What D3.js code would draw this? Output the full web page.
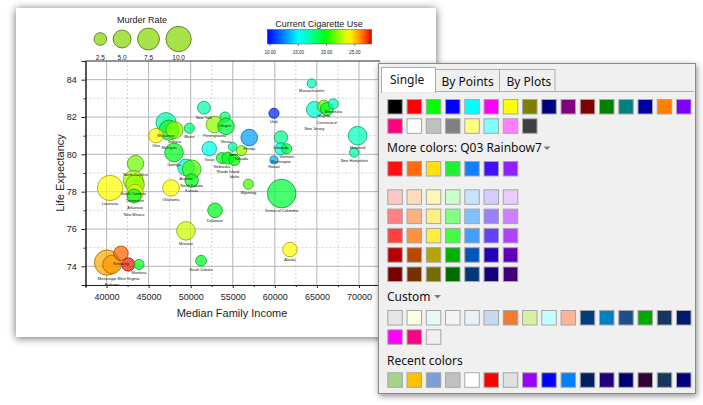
<!DOCTYPE html>
<html><head><meta charset="utf-8">
<script src="https://cdn.jsdelivr.net/npm/d3@7"></script>
<style>html,body{margin:0;padding:0;background:#fff;overflow:hidden}</style>
</head><body>
<svg id="c" width="703" height="405"></svg>
<script>
// ---------------- chart data ----------------
const states = ["Massachusetts","Utah","New Jersey","Virginia","Connecticut","Minnesota","New York","Oregon","Pennsylvania","Illinois","Florida","Colorado","Washington","Vermont","Hawaii","Maryland","New Hampshire","Texas","Iowa","Nevada","Nebraska","Rhode Island","Idaho","Wisconsin","Michigan","Indiana","Ohio","Maine","Georgia","Arizona","North Dakota","Kansas","North Carolina","Louisiana","South Carolina","Tennessee","Arkansas","New Mexico","Oklahoma","Wyoming","District of Columbia","Delaware","Missouri","Alaska","South Dakota","Mississippi","Alabama","Kentucky","West Virginia","Montana"];
const income = [64380,59900,64710,65840,66190,66945,51580,54080,52830,54200,56960,60730,60730,61410,59900,69840,69440,52210,54990,56040,53720,54430,55200,47070,47430,48080,45880,49840,48020,49440,50120,50120,43450,40420,43180,43390,43390,43270,47660,56850,60810,52890,49440,61800,51230,40060,40650,41720,42590,43860];
const lifeExp = [83.8,82.2,82.4,82.56,82.43,82.7,82.5,82.0,81.6,81.5,80.9,80.9,80.3,80.3,79.7,81.0,80.1,80.3,80.4,80.2,79.8,79.8,79.7,81.7,81.3,81.3,81.0,81.4,80.1,79.3,79.2,78.6,79.5,78.2,78.6,78.4,77.95,77.77,78.2,78.4,77.9,77.0,75.9,74.9,74.3,74.2,74.1,74.7,74.1,74.1];
const murderRate = [1.3,1.6,4.0,2.6,2.6,1.6,2.6,1.6,4.3,4.3,4.3,2.8,2.3,1.6,1.0,5.4,1.4,3.3,1.2,1.6,1.9,2.3,2.0,6.3,6.3,4.5,3.3,1.6,5.4,4.3,5.4,2.8,4.3,10,6.3,5.4,4.3,3.1,4.3,1.6,12.8,3.3,5.4,3.3,1.8,10,5.4,3.3,2.8,1.6];
const cigaretteUse = [16.5,10.5,16,21.5,19.5,16.5,17,18,22,19,13,17.5,16,19,13.5,16.5,17,15.5,17,22,19.5,19.5,20,17,19.5,22,24,18,19.5,16,21,19.5,21.5,24,22.5,22,23.5,19.5,24,21,19,19.5,23,24,19.5,25.5,25.8,26.5,27.5,19.5];

const xTicks = [40000,45000,50000,55000,60000,65000,70000];
const xMinorTicks = [37500,42500,47500,52500,57500,62500,67500,72500];
const yTicks = [74,76,78,80,82,84];
const yMinorTicks = [73,75,77,79,81,83,85];
const murderLegend = [2.5,5.0,7.5,10.0];
const cigTicks = [10,15,20,25];

// ---------------- colour picker data ----------------
const singleColors = ["#000000","#ff0000","#00ff00","#0000ff","#00ffff","#ff00ff","#ffff00","#808000","#000080","#800080","#800000","#008000","#008080","#0000a0","#ff8000","#8000ff",
  "#ff0080","#ffffff","#c0c0c0","#808080","#ffff80","#80ffff","#ff80ff","#404040"];
const rainbow7 = ["#ff1010","#ff6a10","#ffe010","#22ee33","#1080ff","#4010ff","#9020ff"];
const tint1 = ["#ffc8c8","#ffdcc0","#fff5b8","#c8ffc8","#c8e4ff","#d6ccff","#e8ccff"];
const tint2 = ["#ff8080","#ffb080","#fff080","#80ff80","#80c0ff","#9980ff","#cc80ff"];
const tint3 = ["#ff4040","#ff9040","#ffee40","#40ff40","#40a0ff","#6640ff","#b240ff"];
const shade1 = ["#b80000","#b84a00","#b8a400","#00b000","#0056b8","#2600b8","#6000b8"];
const shade2 = ["#780000","#783000","#786c00","#006c00","#003878","#180078","#400078"];
const customColors = ["#e6e6e6","#ffffe0","#e6f8f8","#f4f4f4","#e8f0fa","#c6d9f0","#ed7d31","#d8f0a0","#c0ffff","#fbb49c","#003f7f","#0080c0","#1f4e8c","#00aa00","#17365d","#001a70",
  "#ff00ff","#ff0080","#f0f0f0"];
const recentColors = ["#a9d18e","#ffc000","#7f9fd4","#c0c0c0","#ffffff","#ff0000","#e0e0e0","#9900ff","#0000ff","#0080ff","#002060","#20007a","#000070","#330033","#17365d","#000080"];

// ---------------- setup ----------------
const svg = d3.select("#c");
const defs = svg.append("defs");
const f1 = defs.append("filter").attr("id","winShadow").attr("x","-20%").attr("y","-20%").attr("width","140%").attr("height","140%");
f1.append("feDropShadow").attr("dx",0).attr("dy",1).attr("stdDeviation",4).attr("flood-color","#000").attr("flood-opacity",0.6);
const f2 = defs.append("filter").attr("id","popShadow").attr("x","-20%").attr("y","-20%").attr("width","140%").attr("height","140%");
f2.append("feDropShadow").attr("dx",1).attr("dy",2).attr("stdDeviation",3).attr("flood-color","#000").attr("flood-opacity",0.45);

const FONT = "'Liberation Sans', Arial, sans-serif";

// chart window
svg.append("rect").attr("x",16).attr("y",8).attr("width",420).attr("height",329).attr("fill","#fff").attr("filter","url(#winShadow)");

const x = d3.scaleLinear().domain([37500,72500]).range([85.5,380]);
const y = d3.scaleLinear().domain([73,85]).range([285,61]);
const r = d3.scaleSqrt().domain([0,10]).range([0,12.65]);
const cigStops = [9.5,12,15,17.5,20,22,24,25.8,27.5,28];
const cigColors = ["#0000ff","#0070ff","#00ffff","#00ff90","#00ff00","#90ff00","#ffff00","#ff9900","#ff1a00","#cc0000"];
const color = d3.scaleLinear().domain(cigStops).range(cigColors).clamp(true);

const plot = svg.append("g");
defs.append("clipPath").attr("id","pclip").append("rect").attr("x",85.5).attr("y",61).attr("width",294.5).attr("height",224);

// gridlines
const grid = plot.append("g");
grid.selectAll(".vmaj").data(xTicks).join("line")
  .attr("x1",d=>x(d)).attr("x2",d=>x(d)).attr("y1",y(85)).attr("y2",y(73))
  .attr("stroke","#b4b4b4").attr("stroke-width",1);
grid.selectAll(".vmin").data(xMinorTicks).join("line")
  .attr("x1",d=>x(d)).attr("x2",d=>x(d)).attr("y1",y(85)).attr("y2",y(73))
  .attr("stroke","#d2d2d2").attr("stroke-width",1).attr("stroke-dasharray","2,2");
grid.selectAll(".hmaj").data(yTicks).join("line")
  .attr("y1",d=>y(d)).attr("y2",d=>y(d)).attr("x1",x(37500)).attr("x2",x(72500))
  .attr("stroke","#b4b4b4").attr("stroke-width",1);
grid.selectAll(".hmin").data(yMinorTicks).join("line")
  .attr("y1",d=>y(d)).attr("y2",d=>y(d)).attr("x1",x(37500)).attr("x2",x(72500))
  .attr("stroke","#d2d2d2").attr("stroke-width",1).attr("stroke-dasharray","2,2");

// frame top
plot.append("line").attr("x1",x(37500)).attr("x2",x(72500)).attr("y1",y(85)).attr("y2",y(85)).attr("stroke","#333");

// bubbles
const pts = states.map((s,i)=>({s, inc:income[i], le:lifeExp[i], m:murderRate[i], c:cigaretteUse[i]}));
const bub = plot.append("g").attr("clip-path","url(#pclip)");
bub.selectAll("circle").data(pts).join("circle")
  .attr("cx",d=>x(d.inc)).attr("cy",d=>y(d.le)).attr("r",d=>r(d.m))
  .attr("fill",d=>color(d.c)).attr("fill-opacity",0.72)
  .attr("stroke",d=>d3.color(color(d.c)).darker(1.4)).attr("stroke-opacity",0.85).attr("stroke-width",0.9);

// labels with simple greedy de-overlap (stack downward)
const labs = bub.selectAll("text").data(pts).join("text")
  .attr("x",d=>x(d.inc)).attr("y",d=>y(d.le)+r(d.m)+4.5)
  .attr("text-anchor","middle").attr("font-family",FONT).attr("font-size",3.8).attr("fill","#111")
  .text(d=>d.s);
const placed = [];
labs.nodes().map((n,i)=>({n, d:pts[i], w:n.getComputedTextLength()}))
  .sort((a,b)=>(y(a.d.le)+r(a.d.m))-(y(b.d.le)+r(b.d.m)))
  .forEach(o=>{
    const cx0 = x(o.d.inc);
    let ty = y(o.d.le)+r(o.d.m)+4.5;
    let ox = 0;
    const hit = (yy,dx)=>placed.some(p=>!(cx0+dx+o.w/2+0.5<p.x0 || cx0+dx-o.w/2-0.5>p.x1 || yy<p.y0-0.2 || yy-3.4>p.y1));
    let k=0;
    while(hit(ty,ox) && k<8){ ty += 4; k++; }
    d3.select(o.n).attr("y",ty).attr("x",cx0+ox);
    placed.push({x0:cx0+ox-o.w/2, x1:cx0+ox+o.w/2, y0:ty-3.4, y1:ty});
  });

// axes
const xAxis = plot.append("g").attr("transform","translate(0,285)")
  .call(d3.axisBottom(x).tickValues(xTicks).tickSize(3).tickFormat(d3.format("d")));
plot.append("g").attr("transform","translate(0,285)")
  .call(d3.axisBottom(x).tickValues(xMinorTicks).tickSize(2).tickFormat(""));
const yAxis = plot.append("g").attr("transform","translate(85.5,0)")
  .call(d3.axisLeft(y).tickValues(yTicks).tickSize(4).tickFormat(d3.format("d")));
plot.append("g").attr("transform","translate(85.5,0)")
  .call(d3.axisLeft(y).tickValues(yMinorTicks).tickSize(2).tickFormat(""));
plot.selectAll(".domain").attr("stroke","#222");
plot.selectAll(".tick line").attr("stroke","#222");
plot.selectAll(".tick text").attr("font-family",FONT).attr("font-size",9).attr("fill","#222");
xAxis.selectAll(".tick text").attr("dy","0.95em");
yAxis.selectAll(".tick text").attr("dx","-0.2em");

plot.append("text").attr("x",232).attr("y",317).attr("text-anchor","middle").attr("font-family",FONT).attr("font-size",11).attr("fill","#222").text("Median Family Income");
plot.append("text").attr("transform","translate(64,173) rotate(-90)").attr("text-anchor","middle").attr("font-family",FONT).attr("font-size",11).attr("fill","#222").text("Life Expectancy");

// murder rate legend
const lg = svg.append("g");
lg.append("text").attr("x",142).attr("y",23).attr("text-anchor","middle").attr("font-family",FONT).attr("font-size",9).attr("fill","#222").text("Murder Rate");
let acc = 94;
const legPos = murderLegend.map(v=>{ const cx = acc + r(v); acc = cx + r(v) + 6.5; return {v, cx}; });
lg.selectAll("circle").data(legPos).join("circle")
  .attr("cx",d=>d.cx).attr("cy",39).attr("r",d=>r(d.v))
  .attr("fill","#a8e24a").attr("stroke","#5a7a20").attr("stroke-width",0.9);
lg.selectAll(".lv").data(legPos).join("text")
  .attr("x",d=>d.cx).attr("y",59.5).attr("text-anchor","middle").attr("font-family",FONT).attr("font-size",6.5).attr("fill","#222")
  .text(d=>d.v.toFixed(1));

// colour bar legend
const cx = d3.scaleLinear().domain([9.5,28]).range([267.3,371.7]);
const grad = defs.append("linearGradient").attr("id","cbar").attr("x1","0%").attr("x2","100%");
d3.range(0,1.0001,0.05).forEach(t=>{
  const v = 9.5 + t*18.5;
  grad.append("stop").attr("offset",(t*100)+"%").attr("stop-color",color(v));
});
svg.append("text").attr("x",319).attr("y",26.5).attr("text-anchor","middle").attr("font-family",FONT).attr("font-size",9).attr("fill","#222").text("Current Cigarette Use");
svg.append("rect").attr("x",cx(9.5)).attr("y",29.5).attr("width",cx(28)-cx(9.5)).attr("height",14.5).attr("fill","url(#cbar)").attr("stroke","#555").attr("stroke-width",0.5);
svg.append("g").selectAll("line").data(cigTicks).join("line")
  .attr("x1",d=>cx(d)).attr("x2",d=>cx(d)).attr("y1",44).attr("y2",46).attr("stroke","#333").attr("stroke-width",0.6);
svg.append("g").selectAll("text").data(cigTicks).join("text")
  .attr("x",d=>cx(d)).attr("y",54).attr("text-anchor","middle").attr("font-family",FONT).attr("font-size",4.5).attr("fill","#222")
  .text(d=>d.toFixed(2));

// ---------------- colour picker popup ----------------
const UI = "'Noto Sans','Open Sans',sans-serif";
const pop = svg.append("g");
pop.append("rect").attr("x",378.5).attr("y",63.5).attr("width",317).attr("height",330).attr("fill","#f0f0f0").attr("stroke","#8a8a8a").attr("filter","url(#popShadow)");
pop.append("line").attr("x1",381.5).attr("x2",694).attr("y1",91.5).attr("y2",91.5).attr("stroke","#adadad");
const tabs = [{t:"Single",x0:381.5,x1:435.5,y0:67.5,sel:true,tx:390},{t:"By Points",x0:435.5,x1:499.5,y0:69.5,sel:false,tx:441.5},{t:"By Plots",x0:499.5,x1:555,y0:69.5,sel:false,tx:506.5}];
tabs.forEach(t=>{
  pop.append("rect").attr("x",t.x0).attr("y",t.y0).attr("width",t.x1-t.x0).attr("height",(t.sel?92.5:91.5)-t.y0)
    .attr("fill",t.sel?"#ffffff":"#f0f0f0").attr("stroke","#adadad");
  if(t.sel) pop.append("line").attr("x1",t.x0+0.5).attr("x2",t.x1-0.5).attr("y1",92).attr("y2",92).attr("stroke","#fff").attr("stroke-width",1.5);
  pop.append("text").attr("x",t.tx).attr("y",t.sel?84:86).attr("font-family",UI).attr("font-size",12).attr("fill","#111").text(t.t);
});

const col = d3.scaleLinear().domain([0,15]).range([387.3,676]);
function swatches(colors, y0, per){
  const g = pop.append("g");
  g.selectAll("rect").data(colors).join("rect")
    .attr("x",(d,i)=>col(i%per)+0.5).attr("y",(d,i)=>y0+Math.floor(i/per)*19.3+0.5)
    .attr("width",14.5).attr("height",14.5).attr("fill",d=>d).attr("stroke","#a6a6a6").attr("stroke-width",1);
}
swatches(singleColors, 99, 16);
pop.append("text").attr("x",387).attr("y",151.5).attr("font-family",UI).attr("font-size",12).attr("fill","#111").text("More colors: Q03 Rainbow7");
swatches(rainbow7, 161, 16);
swatches(tint1, 189.3, 16);
swatches(tint2, 208.6, 16);
swatches(tint3, 227.9, 16);
swatches(shade1, 247.2, 16);
swatches(shade2, 266.5, 16);
pop.append("text").attr("x",387).attr("y",300.5).attr("font-family",UI).attr("font-size",12).attr("fill","#111").text("Custom");
swatches(customColors, 310, 16);
pop.append("text").attr("x",387).attr("y",365).attr("font-family",UI).attr("font-size",12).attr("fill","#111").text("Recent colors");
swatches(recentColors, 372.3, 16);
// dropdown arrows
[[547,148],[437.5,296.5]].forEach(p=>{
  pop.append("path").attr("d",`M${p[0]-3.5},${p[1]-1.5} L${p[0]+3.5},${p[1]-1.5} L${p[0]},${p[1]+2} Z`).attr("fill","#7a7a7a");
});
</script>
</body></html>
